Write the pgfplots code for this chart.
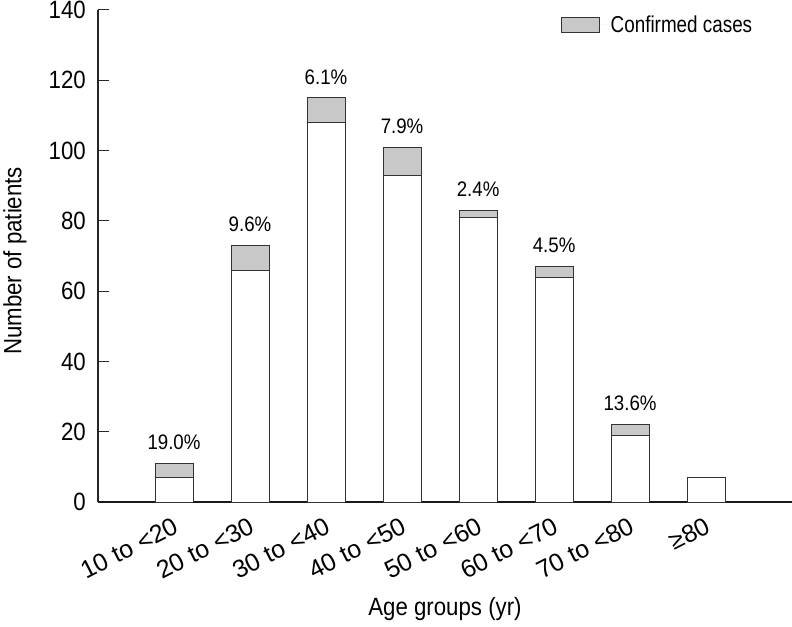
\documentclass[border=0pt]{standalone}
\usepackage{pgfplots}
\pgfplotsset{compat=1.18}
\usepackage{fontspec}
\setmainfont{Liberation Sans}[FakeStretch=0.89]
\newfontfamily\legfont{Liberation Sans}[FakeStretch=0.82]
\newfontfamily\tickfont{Liberation Sans}
\definecolor{gfill}{HTML}{C8C8C8}
\definecolor{edge}{HTML}{333333}
\newcommand{\fs}[1]{\fontsize{#1bp}{#1bp}\selectfont}
\begin{document}
\begin{tikzpicture}[font=\fs{25}]
\begin{axis}[
  scale only axis, width=694bp, height=492bp,
  xmin=0, xmax=9.13, ymin=0, ymax=140,
  axis x line=bottom, axis y line=left,
  x axis line style={-, draw=black!90, line width=1.8bp},
  y axis line style={-, draw=black!85, line width=1.3bp},
  ytick={0,20,...,140},
  tick align=inside,
  major tick length=11bp,
  y tick style={draw=black!85, line width=1bp},
  xtick={1,...,8},
  xticklabels={10 to <20, 20 to <30, 30 to <40, 40 to <50, 50 to <60, 60 to <70, 70 to <80, ≥80},
  x tick style={draw=none},
  xticklabel style={xshift=-2bp, yshift=-3bp, rotate=27, anchor=north east, inner sep=0pt, font=\tickfont\fs{25}},
  yticklabel style={font=\fs{25}, inner sep=0pt, xshift=-12bp},
  /pgf/number format/assume math mode=true,
  ylabel={Number of patients},
  xlabel={Age groups (yr)},
  ylabel style={at={(rel axis cs:0,0.49)}, yshift=83bp, anchor=center, font=\fs{25}},
  xlabel style={at={(rel axis cs:0.5,0)}, yshift=-107bp, anchor=center, font=\fs{25}},
  ybar, bar width=38bp,
  legend style={draw=none, fill=none, inner sep=0pt, at={(rel axis cs:0,1)}, anchor=west, xshift=463bp, yshift=-15bp, font=\legfont\fs{23}, nodes={inner sep=0pt}},
  legend image code/.code={\draw[fill=gfill,draw=edge,line width=1bp] (0bp,-8bp) rectangle (38bp,7bp); \path[draw=none] (0bp,0bp) -- (49bp,0bp);},
]
\addplot[fill=gfill, draw=edge, line width=1bp, bar shift=0pt,
  nodes near coords, point meta=explicit symbolic,
  nodes near coords style={anchor=south, inner sep=0pt, yshift=13bp, text=black, font=\fs{21}}]
  table[meta=lbl] {
x y lbl
1 11 19.0\%
2 73 9.6\%
3 115 6.1\%
4 101 7.9\%
5 83 2.4\%
6 67 4.5\%
7 22 13.6\%
8 7 {}
};
\addlegendentry{Confirmed cases}
\addplot[fill=white, draw=edge, line width=1bp, bar shift=0pt, forget plot] coordinates {(1,7)(2,66)(3,108)(4,93)(5,81)(6,64)(7,19)(8,7)};
\coordinate (bl) at (rel axis cs:0,0);
\coordinate (tr) at (rel axis cs:1,1);
\end{axis}
\pgfresetboundingbox
\path ([shift={(-98bp,-125bp)}]bl) rectangle ([shift={(0bp,10bp)}]tr);
\end{tikzpicture}
\end{document}
